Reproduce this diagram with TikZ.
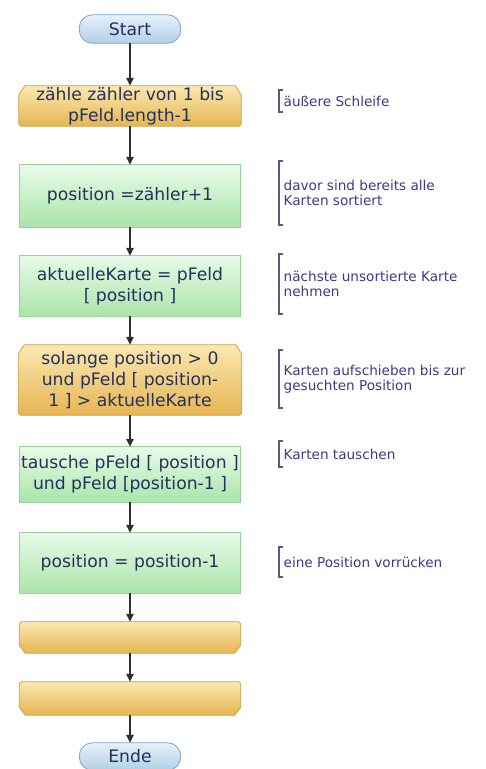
\documentclass[tikz,border=0pt]{standalone}
\usepackage{fontspec}
\setmainfont{DejaVu Sans}
\usetikzlibrary{arrows.meta,backgrounds}
\definecolor{txtc}{HTML}{24305E}
\definecolor{notec}{HTML}{3A3A8A}
\definecolor{brkc}{HTML}{5A5A7C}
\definecolor{grtop}{HTML}{E8FBE8}
\definecolor{grbot}{HTML}{A9E5A9}
\definecolor{grbor}{HTML}{9AD29A}
\definecolor{ortop}{HTML}{FBE8B2}
\definecolor{orbot}{HTML}{E6B552}
\definecolor{orbor}{HTML}{CFA045}
\definecolor{bltop}{HTML}{E6F1FA}
\definecolor{blbot}{HTML}{B3CFE6}
\definecolor{blbor}{HTML}{7FA3C6}
\definecolor{arrc}{HTML}{2E2E2E}
\tikzset{
  box/.style={draw=none, inner sep=0pt, align=center, text=txtc,
    font=\fontsize{17.2}{21}\selectfont},
  greenfill/.style={top color=grtop, bottom color=grbot, draw=grbor, line width=0.8pt},
  orangefill/.style={top color=ortop, bottom color=orbot, draw=orbor, line width=0.8pt},
  bluefill/.style={top color=bltop, bottom color=blbot, draw=blbor, line width=0.8pt},
  shadowfill/.style={fill=black!14, draw=none},
  note/.style={draw=none, anchor=west, align=left, text=notec, inner xsep=4.5pt, inner ysep=0pt,
    font=\fontsize{13.6}{15}\selectfont},
  brk/.style={draw=brkc, line width=1.8pt},
  arr/.style={draw=arrc, line width=1.5pt, -{Triangle[length=8pt,width=7.5pt]}},
}
\newcommand{\rectpath}[1]{(#1.north west) rectangle (#1.south east)}
\newcommand{\pillpath}[1]{[rounded corners=13pt] (#1.north west) rectangle (#1.south east)}
\newcommand{\looptoppath}[1]{([xshift=6pt]#1.north west) -- ([xshift=-6pt]#1.north east) -- ([yshift=-9pt]#1.north east) -- ([yshift=2pt]#1.south east) -- ([xshift=-2pt]#1.south east) -- ([xshift=2pt]#1.south west) -- ([yshift=2pt]#1.south west) -- ([yshift=-9pt]#1.north west) -- cycle}
\newcommand{\loopbotpath}[1]{([xshift=2pt]#1.north west) -- ([xshift=-2pt]#1.north east) -- ([yshift=-2pt]#1.north east) -- ([yshift=8pt]#1.south east) -- ([xshift=-6pt]#1.south east) -- ([xshift=6pt]#1.south west) -- ([yshift=8pt]#1.south west) -- ([yshift=-2pt]#1.north west) -- cycle}
\newcommand{\bracket}[1]{([xshift=3.5pt]#1.north west) -- (#1.north west) -- (#1.south west) -- ([xshift=3.5pt]#1.south west)}
\begin{document}
\begin{tikzpicture}[x=1pt,y=-1pt]
\useasboundingbox (0,0) rectangle (485,769);
% nodes
\node[box, minimum width=101pt, minimum height=28pt] (st) at (130,29) {Start};
\node[box, minimum width=222pt, minimum height=40pt] (b1) at (130,106) {zähle zähler von 1 bis\\pFeld.length-1};
\node[box, minimum width=221pt, minimum height=62pt] (b2) at (130,196) {position =zähler+1};
\node[box, minimum width=221pt, minimum height=60pt] (b3) at (130,286) {aktuelleKarte = pFeld\\{[} position {]}};
\node[box, minimum width=223pt, minimum height=70pt] (b4) at (130,380) {solange position > 0\\und pFeld {[} position-\\1 {]} > aktuelleKarte};
\node[box, minimum width=221pt, minimum height=55pt] (b5) at (130,474.5) {tausche pFeld {[} position {]}\\und pFeld {[}position-1 {]}};
\node[box, minimum width=221pt, minimum height=60pt] (b6) at (130,563) {position = position-1};
\node[box, minimum width=221pt, minimum height=31pt] (b7) at (130,637.5) {};
\node[box, minimum width=221pt, minimum height=33pt] (b8) at (130,698.5) {};
\node[box, minimum width=101pt, minimum height=27pt] (en) at (130,756.5) {Ende};
% notes
\node[note, minimum height=22pt] (n1) at (279,101) {äußere Schleife};
\node[note, minimum height=63pt] (n2) at (279,193) {davor sind bereits alle\\Karten sortiert};
\node[note, minimum height=60pt] (n3) at (279,284) {nächste unsortierte Karte\\nehmen};
\node[note, minimum height=58pt] (n4) at (279,379) {Karten aufschieben bis zur\\gesuchten Position};
\node[note, minimum height=25pt] (n5) at (279,454) {Karten tauschen};
\node[note, minimum height=29pt] (n6) at (279,562) {eine Position vorrücken};
\begin{scope}[on background layer]
  % shadows
  \begin{scope}[shift={(2,2.5)}]
    \fill[shadowfill] \pillpath{st};
    \fill[shadowfill] \looptoppath{b1};
    \fill[shadowfill] \rectpath{b2};
    \fill[shadowfill] \rectpath{b3};
    \fill[shadowfill] \looptoppath{b4};
    \fill[shadowfill] \rectpath{b5};
    \fill[shadowfill] \rectpath{b6};
    \fill[shadowfill] \loopbotpath{b7};
    \fill[shadowfill] \loopbotpath{b8};
    \fill[shadowfill] \pillpath{en};
  \end{scope}
  \path[bluefill] \pillpath{st};
  \path[orangefill] \looptoppath{b1};
  \path[greenfill] \rectpath{b2};
  \path[greenfill] \rectpath{b3};
  \path[orangefill] \looptoppath{b4};
  \path[greenfill] \rectpath{b5};
  \path[greenfill] \rectpath{b6};
  \path[orangefill] \loopbotpath{b7};
  \path[orangefill] \loopbotpath{b8};
  \path[bluefill] \pillpath{en};
\end{scope}
% brackets
\draw[brk] \bracket{n1};
\draw[brk] \bracket{n2};
\draw[brk] \bracket{n3};
\draw[brk] \bracket{n4};
\draw[brk] \bracket{n5};
\draw[brk] \bracket{n6};
% connectors
\draw[arr] (st) -- (b1);
\draw[arr] (b1) -- (b2);
\draw[arr] (b2) -- (b3);
\draw[arr] (b3) -- (b4);
\draw[arr] (b4) -- (b5);
\draw[arr] (b5) -- (b6);
\draw[arr] (b6) -- (b7);
\draw[arr] (b7) -- (b8);
\draw[arr] (b8) -- (en);
\end{tikzpicture}
\end{document}
